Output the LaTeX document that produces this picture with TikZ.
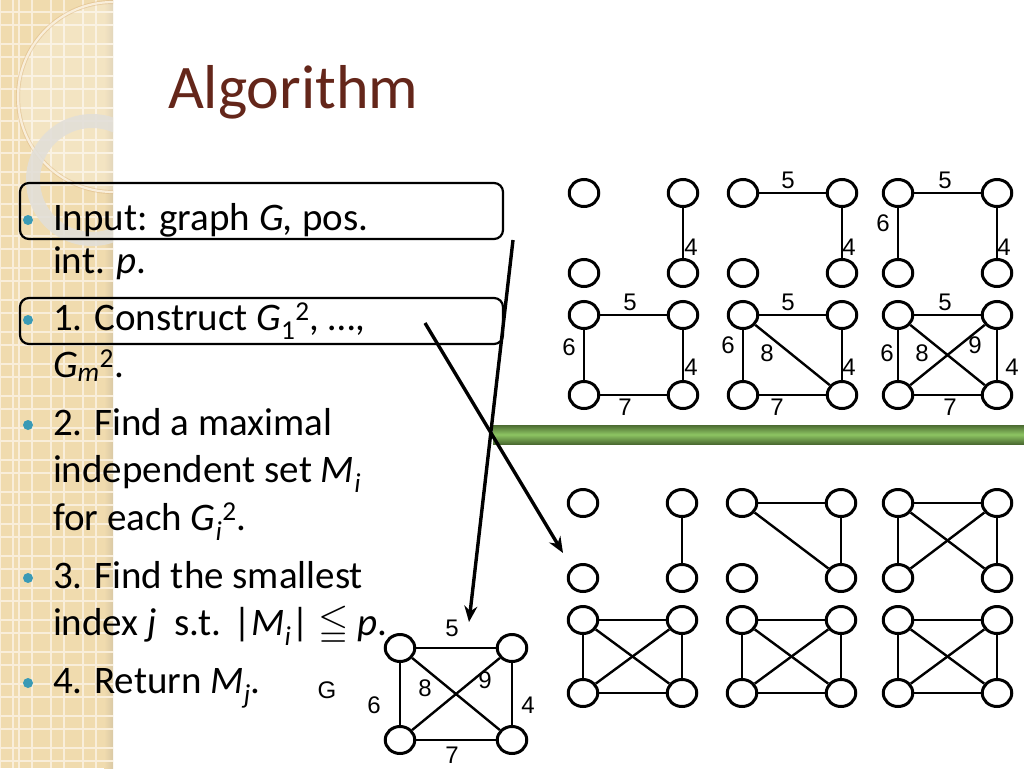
\documentclass[tikz,border=0pt]{standalone}
\usepackage{fontspec}
\usepackage{amssymb}
\setmainfont{Carlito}
\newfontfamily\arialfont{Liberation Sans}
\usetikzlibrary{arrows.meta, shapes.geometric, shadings}
\definecolor{cstripe}{HTML}{F0DBAE}
\definecolor{cgridline}{HTML}{F9EEDA}
\definecolor{ctitle}{HTML}{64261A}
\definecolor{cbullet}{HTML}{3A9AB5}
\definecolor{cgreendark}{HTML}{4B6B31}
\definecolor{cgreenlight}{HTML}{8DC563}
\definecolor{cring}{HTML}{E2DFD8}
\tikzset{
  every picture/.style={line width=2pt},
  vtx/.style={ellipse, draw, fill=white, line width=3pt, minimum width=29.5pt, minimum height=27pt, inner sep=0pt},
  edge/.style={line width=2.4pt},
  lbl/.style={font=\arialfont\fontsize{24}{24}\selectfont, inner sep=0pt},
  txt/.style={font=\fontsize{39}{47}\selectfont, anchor=base west, inner sep=0pt},
  hlbox/.style={draw, rounded corners=9pt, line width=2.2pt},
  arrow/.style={-{Stealth[length=16pt, width=13pt]}, line width=3.4pt},
  gridl/.style={draw=cgridline, line width=1.5pt},
}

\begin{document}
\begin{tikzpicture}[x=1pt, y=-1pt]
  \useasboundingbox (0,0) rectangle (1024,768);
  \fill[white] (0,0) rectangle (1024,768);
  % the stripe on the left
  \fill[cstripe] (0,0) rectangle (113,768);
  \shade[left color=cstripe, right color=cstripe!80!gray] (104,0) rectangle (113,768);
  \foreach \x in {0,19,51,83} {\draw[gridl] (\x,0) -- (\x,768); \draw[gridl] (\x+13,0) -- (\x+13,768);}
  \foreach \y in {12,44,...,748} {\draw[gridl] (0,\y) -- (113,\y); \draw[gridl] (0,\y+13) -- (113,\y+13);}
  \begin{scope}
    \clip (0,0) rectangle (113,768);
    \fill[white, opacity=.25] (113,97) circle (95pt);
    \draw[cstripe!55!brown, line width=4pt, opacity=.45] (113,97) circle (95pt);
    \draw[cgridline, line width=2.2pt] (113,97) circle (95pt);
    \fill[cring, opacity=.9, even odd rule] (92,180) circle (66pt) (92,180) circle (52pt);
  \end{scope}
  \node[font=\fontsize{62}{70}\selectfont, text=ctitle, anchor=base west, inner sep=0pt] (title) at (167,108) {Algorithm};
  % the bullet list
  \draw[hlbox] (20,183) rectangle (503,239);
  \draw[hlbox] (20,298) rectangle (503,344);
  \foreach \y/\t [count=\i] in {230/{Input: graph \textit{G,} pos.}, 273/{int. \textit{p}.},
    330/{1. Construct \textit{G}\textsubscript{1}\textsuperscript{2}, …,}, 377/{\textit{G}\textsubscript{\textit{m}}\textsuperscript{2}.},
    435/{2. Find a maximal}, 482/{independent set \textit{M}\textsubscript{\textit{i}}},
    530/{for each \textit{G}\textsubscript{\textit{i}}\textsuperscript{2}.}, 588/{3. Find the smallest},
    635/{index \textit{j}\ \ s.t. |\textit{M}\textsubscript{\textit{i}}| $\leqq$ \textit{p}.}, 693/{4. Return \textit{M}\textsubscript{\textit{j}}.}}
    {\node[txt] (ln\i) at (52,\y) {\t};}
  \foreach \y in {230,330,435,588,693} {\fill[cbullet] (28,\y-10) circle (5pt);}
  % green bar
  \shade[top color=cgreendark, bottom color=cgreendark, middle color=cgreenlight] (493,425) rectangle (1024,444);
  % the graphs
  \foreach \g/\xl/\xr/\yt/\yb in {t1/584/683/193/273, t2/743/842/193/273, t3/898/997/193/273,
    t4/584/683/315/395, t5/743/842/315/395, t6/898/997/315/395,
    b1/583/682/503/578, b2/742/841/503/578, b3/898/997/503/578,
    b4/583/682/620/693, b5/742/841/620/693, b6/898/997/620/693, g/400/512/648/740}
  {
    \node[vtx] (\g a) at (\xl,\yt) {}; \node[vtx] (\g b) at (\xr,\yt) {};
    \node[vtx] (\g c) at (\xl,\yb) {}; \node[vtx] (\g d) at (\xr,\yb) {};
  }
  \foreach \u/\v in {t1b/t1d, t2a/t2b, t2b/t2d, t3a/t3b, t3a/t3c, t3b/t3d,
    t4a/t4b, t4a/t4c, t4b/t4d, t4c/t4d, t5a/t5b, t5a/t5c, t5b/t5d, t5c/t5d, t5a/t5d,
    t6a/t6b, t6a/t6c, t6b/t6d, t6c/t6d, t6a/t6d, t6b/t6c,
    b1b/b1d, b2a/b2b, b2b/b2d, b2a/b2d, b3a/b3b, b3a/b3c, b3b/b3d, b3a/b3d, b3b/b3c}
    {\draw[edge] (\u) -- (\v);}
  \foreach \g in {b4,b5,b6,g} {\foreach \u/\v in {a/b,a/c,b/d,c/d,a/d,b/c} {\draw[edge] (\g\u) -- (\g\v);}}
  \foreach \x/\y/\t [count=\i] in {691/247/4, 788/180/5, 849/247/4, 945/180/5, 883/223/6, 1004/247/4,
    630/302/5, 569/347/6, 691/367/4, 625/407/7, 788/302/5, 728/345/6, 767/353/8, 849/367/4, 777/407/7,
    945/302/5, 887/353/6, 922/353/8, 975/345/9, 1012/367/4, 950/407/7,
    452/628/5, 374/705/6, 425/688/8, 485/680/9, 528/705/4, 452/755/7, 327/690/G}
    {\node[lbl] (w\i) at (\x,\y) {\t};}
  % arrows
  \coordinate (p1) at (513,240); \coordinate (p1e) at (469,622);
  \coordinate (p2) at (425,323); \coordinate (p2e) at (563,553);
  \draw[arrow] (p1) -- (p1e);
  \draw[arrow] (p2) -- (p2e);
\end{tikzpicture}
\end{document}
